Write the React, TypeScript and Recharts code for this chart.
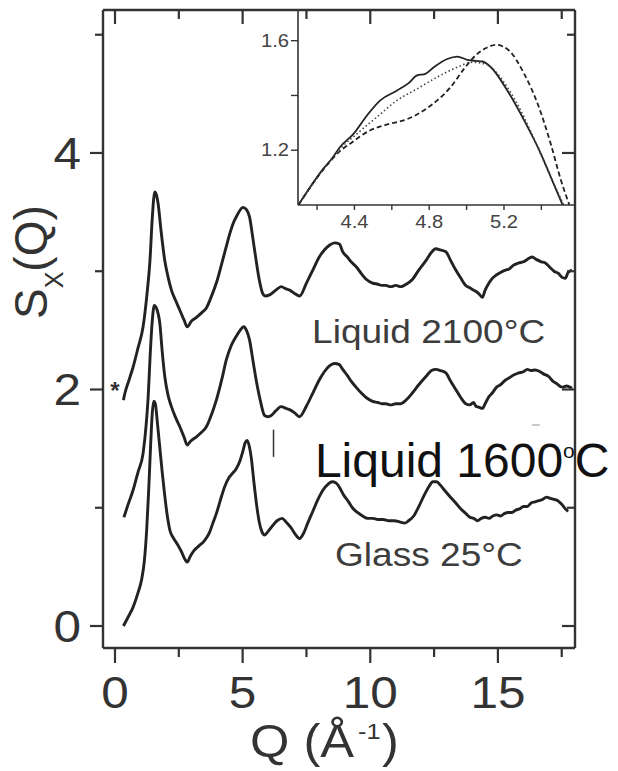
import React from 'react';
import { LineChart, Line, XAxis, YAxis, ReferenceDot, ReferenceLine } from 'recharts';

const FONT = '"Liberation Sans", Arial, Helvetica, sans-serif';
const INK = '#222222';
const AXIS = '#333333';

// ---- main panel data: Q (1/Å) and S_X(Q) (offset curves) ----
const glassQ = [0.33,0.5,0.71,0.9,1.04,1.15,1.24,1.32,1.4,1.46,1.52,1.58,1.66,1.75,1.85,1.95,2.05,2.15,2.3,2.45,2.6,2.75,2.83,2.95,3.1,3.3,3.5,3.7,3.85,3.97,4.15,4.3,4.45,4.6,4.75,4.9,5.0,5.1,5.18,5.26,5.34,5.45,5.55,5.65,5.75,5.86,6.0,6.18,6.35,6.55,6.7,6.9,7.05,7.23,7.4,7.55,7.75,7.95,8.15,8.35,8.5,8.66,8.8,8.95,9.15,9.3,9.5,9.7,9.9,10.1,10.3,10.5,10.74,10.95,11.15,11.35,11.5,11.7,11.9,12.1,12.3,12.45,12.6,12.75,12.9,13.1,13.35,13.55,13.75,13.9,14.05,14.2,14.35,14.5,14.65,14.8,14.95,15.1,15.25,15.4,15.55,15.7,15.85,16.0,16.15,16.3,16.45,16.6,16.75,16.9,17.05,17.2,17.35,17.5,17.65,17.75];
const glassS = [0.0,0.07,0.16,0.28,0.39,0.55,0.81,1.15,1.55,1.8,1.9,1.88,1.72,1.52,1.3,1.1,0.93,0.81,0.74,0.69,0.63,0.56,0.54,0.59,0.64,0.68,0.72,0.79,0.88,0.95,1.08,1.18,1.25,1.29,1.33,1.4,1.47,1.55,1.57,1.52,1.42,1.2,1.02,0.88,0.8,0.77,0.8,0.85,0.89,0.91,0.88,0.83,0.78,0.74,0.79,0.87,0.97,1.07,1.15,1.2,1.22,1.21,1.17,1.11,1.05,1.0,0.96,0.93,0.91,0.91,0.9,0.9,0.89,0.89,0.88,0.87,0.89,0.93,1.01,1.1,1.18,1.22,1.22,1.19,1.15,1.1,1.04,0.99,0.95,0.92,0.91,0.89,0.91,0.92,0.91,0.93,0.94,0.93,0.95,0.96,0.96,0.98,0.99,1.01,1.01,1.04,1.05,1.06,1.07,1.09,1.08,1.07,1.06,1.03,0.99,0.97];

const liq1600Q = [0.35,0.5,0.71,0.9,1.1,1.22,1.3,1.38,1.46,1.54,1.62,1.76,1.85,1.95,2.08,2.21,2.38,2.54,2.7,2.83,2.95,3.19,3.4,3.58,3.8,3.97,4.2,4.36,4.55,4.75,4.9,5.04,5.15,5.27,5.4,5.53,5.7,5.86,6.0,6.12,6.3,6.51,6.7,6.84,7.05,7.23,7.5,7.75,8.0,8.2,8.4,8.6,8.79,8.92,9.1,9.25,9.44,9.65,9.85,10.09,10.3,10.45,10.61,10.8,11.0,11.2,11.4,11.65,11.9,12.18,12.4,12.57,12.75,12.96,13.15,13.35,13.55,13.74,13.9,14.05,14.13,14.25,14.39,14.5,14.65,14.78,14.95,15.1,15.3,15.45,15.6,15.82,16.0,16.15,16.3,16.47,16.65,16.8,16.99,17.15,17.3,17.51,17.7,17.9];
const liq1600S = [0.92,1.02,1.15,1.3,1.46,1.7,1.94,2.3,2.58,2.71,2.69,2.55,2.32,2.11,1.95,1.855,1.76,1.685,1.6,1.53,1.56,1.6,1.64,1.685,1.8,1.91,2.1,2.25,2.37,2.45,2.5,2.53,2.5,2.42,2.25,2.08,1.9,1.78,1.77,1.78,1.82,1.855,1.84,1.83,1.8,1.77,1.86,1.97,2.08,2.15,2.2,2.22,2.21,2.17,2.12,2.07,2.02,1.97,1.93,1.9,1.89,1.88,1.88,1.87,1.88,1.88,1.91,1.97,2.04,2.11,2.16,2.17,2.16,2.14,2.07,2.0,1.93,1.88,1.87,1.89,1.86,1.85,1.84,1.88,1.94,1.97,2.02,2.04,2.08,2.1,2.12,2.14,2.15,2.17,2.16,2.165,2.15,2.13,2.11,2.07,2.05,2.02,2.03,2.01];

const liq2100Q = [0.33,0.39,0.55,0.71,0.9,1.1,1.25,1.37,1.46,1.56,1.63,1.69,1.8,1.95,2.08,2.21,2.38,2.54,2.7,2.83,3.0,3.19,3.4,3.58,3.8,3.97,4.2,4.36,4.5,4.62,4.8,5.01,5.15,5.27,5.4,5.53,5.65,5.79,5.9,6.05,6.3,6.51,6.7,6.84,7.05,7.23,7.5,7.75,8.0,8.2,8.4,8.6,8.79,8.92,9.1,9.25,9.44,9.65,9.85,10.09,10.3,10.45,10.61,10.8,11.0,11.2,11.4,11.65,11.9,12.18,12.4,12.57,12.75,12.96,13.15,13.35,13.55,13.74,13.9,14.05,14.13,14.25,14.39,14.5,14.65,14.78,14.95,15.1,15.3,15.45,15.6,15.82,16.0,16.15,16.34,16.5,16.7,16.86,17.05,17.2,17.38,17.5,17.64,17.75,17.9];
const liq2100S = [1.91,1.97,2.08,2.19,2.35,2.53,2.8,3.09,3.45,3.67,3.64,3.57,3.35,3.09,2.95,2.84,2.75,2.67,2.59,2.53,2.58,2.61,2.65,2.69,2.8,2.9,3.08,3.21,3.32,3.4,3.48,3.54,3.52,3.46,3.28,3.09,2.93,2.81,2.79,2.8,2.84,2.87,2.85,2.84,2.81,2.79,2.9,3.01,3.12,3.18,3.22,3.24,3.23,3.165,3.12,3.08,3.04,2.98,2.93,2.9,2.89,2.88,2.88,2.87,2.88,2.87,2.89,2.93,3.01,3.09,3.16,3.19,3.18,3.165,3.09,3.01,2.94,2.88,2.86,2.84,2.83,2.81,2.78,2.84,2.9,2.94,2.97,2.99,3.01,3.02,3.05,3.07,3.08,3.1,3.12,3.1,3.08,3.07,3.03,3.0,2.98,2.95,2.94,2.99,3.01];

// ---- inset data (zoom on second peak) ----
const insetSolidQ = [4.1,4.234,4.28,4.323,4.395,4.467,4.538,4.628,4.69,4.735,4.78,4.825,4.896,4.95,5.004,5.05,5.084,5.13,5.218,5.308,5.397,5.45,5.514];
const insetSolidS = [1.0,1.133,1.17,1.212,1.26,1.327,1.382,1.418,1.445,1.473,1.479,1.503,1.533,1.542,1.53,1.526,1.524,1.503,1.418,1.309,1.188,1.103,1.0];
const insetDashQ = [4.1,4.234,4.32,4.377,4.485,4.592,4.663,4.72,4.77,4.843,4.914,4.986,5.057,5.11,5.156,5.227,5.308,5.38,5.45,5.505,5.55];
const insetDashS = [1.0,1.13,1.195,1.224,1.273,1.297,1.309,1.325,1.345,1.382,1.43,1.497,1.552,1.575,1.585,1.564,1.479,1.37,1.224,1.09,1.0];
const insetDotQ = [4.1,4.234,4.323,4.413,4.52,4.628,4.735,4.843,4.95,5.03,5.1,5.218,5.308,5.38,5.45,5.52];
const insetDotS = [1.0,1.13,1.205,1.26,1.321,1.382,1.424,1.467,1.503,1.521,1.515,1.43,1.32,1.212,1.103,1.0];

// ---- ticks ----
const mainXTicks = [0, 2.5, 5, 7.5, 10, 12.5, 15, 17.5];
const mainXLabels = [0, 5, 10, 15];
const mainYTicks = [0, 1, 2, 3, 4, 5];
const mainYLabels = [0, 2, 4];
const insetXTicks = [4.2, 4.4, 4.6, 4.8, 5.0, 5.2, 5.4];
const insetXLabels = ['4.4', '4.8', '5.2'];
const insetYTicks = [1.2, 1.4, 1.6];
const insetYLabels = ['1.2', '1.6'];

const zip = (q: number[], s: number[]) => q.map((v, i) => ({ q: v, s: s[i] }));
const glass = zip(glassQ, glassS);
const liq1600 = zip(liq1600Q, liq1600S);
const liq2100 = zip(liq2100Q, liq2100S);
const insetSolid = zip(insetSolidQ, insetSolidS);
const insetDash = zip(insetDashQ, insetDashS);
const insetDot = zip(insetDotQ, insetDotS);

const BottomTick = (p: any) => {
  const { x, y, payload } = p;
  const v = payload.value;
  const major = mainXLabels.includes(v);
  return (
    <g>
      <line x1={x} x2={x} y1={y} y2={y + (major ? 15 : 9)} stroke={AXIS} strokeWidth={2.2} />
      {major && (
        <text transform={`translate(${x},${y + 60}) scale(1.1,1)`} textAnchor="middle" fontSize={45} fill="#333" fontFamily={FONT}>{v}</text>
      )}
    </g>
  );
};
const TopTick = (p: any) => {
  const { x, y, payload } = p;
  const major = mainXLabels.includes(payload.value);
  return <line x1={x} x2={x} y1={y} y2={y + (major ? 14 : 9)} stroke={AXIS} strokeWidth={2.2} />;
};
const LeftTick = (p: any) => {
  const { x, y, payload } = p;
  const v = payload.value;
  const major = mainYLabels.includes(v);
  return (
    <g>
      <line x1={x} x2={x - (major ? 13 : 8)} y1={y} y2={y} stroke={AXIS} strokeWidth={2.2} />
      {major && (
        <text transform={`translate(${x - 22},${y + 16}) scale(1.1,1)`} textAnchor="end" fontSize={45} fill="#333" fontFamily={FONT}>{v}</text>
      )}
    </g>
  );
};
const RightTick = (p: any) => {
  const { x, y, payload } = p;
  const major = mainYLabels.includes(payload.value);
  return <line x1={x} x2={x - (major ? 13 : 8)} y1={y} y2={y} stroke={AXIS} strokeWidth={2.2} />;
};
const InsetBottomTick = (p: any) => {
  const { x, y, payload } = p;
  const label = payload.value.toFixed(1);
  const show = insetXLabels.includes(label);
  return (
    <g>
      <line x1={x} x2={x} y1={y} y2={y + 5} stroke={AXIS} strokeWidth={1.4} />
      {show && (
        <text transform={`translate(${x},${y + 23}) scale(1.12,1)`} textAnchor="middle" fontSize={18} fill="#444" fontFamily={FONT}>{label}</text>
      )}
    </g>
  );
};
const InsetLeftTick = (p: any) => {
  const { x, y, payload } = p;
  const label = payload.value.toFixed(1);
  const show = insetYLabels.includes(label);
  return (
    <g>
      <line x1={x} x2={x - 7} y1={y} y2={y} stroke={AXIS} strokeWidth={1.4} />
      {show && (
        <text transform={`translate(${x - 9},${y + 6}) scale(1.12,1)`} textAnchor="end" fontSize={18} fill="#444" fontFamily={FONT}>{label}</text>
      )}
    </g>
  );
};

const XTitle = () => (
  <g fill="#333" fontFamily={FONT}>
    <text transform="translate(250,757) scale(1.1,1)" fontSize={46}>Q (Å</text>
    <text transform="translate(358,739) scale(1.15,1)" fontSize={22}>-1</text>
    <text transform="translate(382,757) scale(1.1,1)" fontSize={46}>)</text>
  </g>
);
const YTitle = () => (
  <text transform="translate(47,319) rotate(-90)" fontSize={46} fill="#333" fontFamily={FONT}>
    S<tspan fontSize={25} dy={16}>X</tspan><tspan fontSize={46} dy={-16}>(Q)</tspan>
  </text>
);

const greyLabel = (content: React.ReactNode) => (p: any) => (
  <text transform={`translate(${p.cx},${p.cy}) scale(1.09,1)`} fontSize={34} fill="#3d3d3d" fontFamily={FONT}>{content}</text>
);

export default function App() {
  return (
    <div style={{ position: 'absolute', left: 0, top: 0, width: 618, height: 771, background: '#fff' }}>
      <div style={{ position: 'absolute', left: 0, top: 0 }}>
        <LineChart width={618} height={771} margin={{ top: 9, right: 42, bottom: 63, left: 43 }}>
          <XAxis xAxisId="b" type="number" dataKey="q" domain={[-0.47, 18.02]} ticks={mainXTicks} interval={0}
            allowDataOverflow height={60} tickSize={0} tickMargin={0} tickLine={false}
            axisLine={{ stroke: AXIS, strokeWidth: 2.4 }} tick={<BottomTick />}
            label={{ content: () => <XTitle /> }} />
          <XAxis xAxisId="t" orientation="top" type="number" dataKey="q" domain={[-0.47, 18.02]} ticks={mainXTicks} interval={0}
            allowDataOverflow height={1} tickSize={0} tickMargin={0} tickLine={false}
            axisLine={{ stroke: AXIS, strokeWidth: 2.4 }} tick={<TopTick />} />
          <YAxis yAxisId="l" type="number" domain={[-0.186, 5.209]} ticks={mainYTicks} interval={0}
            allowDataOverflow width={60} tickSize={0} tickMargin={0} tickLine={false}
            axisLine={{ stroke: AXIS, strokeWidth: 2.4 }} tick={<LeftTick />}
            label={{ content: () => <YTitle /> }} />
          <YAxis yAxisId="r" orientation="right" type="number" domain={[-0.186, 5.209]} ticks={mainYTicks} interval={0}
            allowDataOverflow width={1} tickSize={0} tickMargin={0} tickLine={false}
            axisLine={{ stroke: AXIS, strokeWidth: 2.4 }} tick={<RightTick />} />

          <Line xAxisId="b" yAxisId="l" data={liq2100} dataKey="s" type="monotone" stroke={INK} strokeWidth={2.9} dot={false} isAnimationActive={false} />
          <Line xAxisId="b" yAxisId="l" data={liq1600} dataKey="s" type="monotone" stroke={INK} strokeWidth={2.9} dot={false} isAnimationActive={false} />
          <Line xAxisId="b" yAxisId="l" data={glass} dataKey="s" type="monotone" stroke={INK} strokeWidth={2.9} dot={false} isAnimationActive={false} />

          <ReferenceLine xAxisId="b" yAxisId="l" segment={[{ x: 6.21, y: 1.43 }, { x: 6.21, y: 1.66 }]} stroke="#333" strokeWidth={1.5} />
          <ReferenceLine xAxisId="b" yAxisId="l" segment={[{ x: 16.33, y: 1.70 }, { x: 16.64, y: 1.70 }]} stroke="#c8c8c8" strokeWidth={2} />

          <ReferenceDot xAxisId="b" yAxisId="l" x={0} y={2.0} r={0}
            shape={(p: any) => <text x={p.cx} y={p.cy + 10} textAnchor="middle" fontSize={24} fontWeight="bold" fill="#333" fontFamily={FONT}>*</text>} />
          <ReferenceDot xAxisId="b" yAxisId="l" x={7.72} y={2.39} r={0} shape={greyLabel(<>Liquid 2100°C</>)} />
          <ReferenceDot xAxisId="b" yAxisId="l" x={8.62} y={0.507} r={0} shape={greyLabel(<>Glass 25°C</>)} />
          <ReferenceDot xAxisId="b" yAxisId="l" x={7.83} y={1.26} r={0}
            shape={(p: any) => (
              <text x={p.cx} y={p.cy} fontSize={48} fill="#111" fontFamily={FONT}>
                Liquid 1600<tspan fontSize={21} dx={0} dy={-19}>o</tspan><tspan fontSize={48} dx={0} dy={19}>C</tspan>
              </text>
            )} />
        </LineChart>
      </div>

      <div style={{ position: 'absolute', left: 238, top: 0 }}>
        <LineChart width={380} height={240} margin={{ top: 10, right: 43, bottom: 5, left: 0 }}>
          <XAxis type="number" dataKey="q" domain={[4.098, 5.58]} ticks={insetXTicks} interval={0}
            allowDataOverflow height={30} tickSize={0} tickMargin={0} tickLine={false}
            axisLine={{ stroke: AXIS, strokeWidth: 1.6 }} tick={<InsetBottomTick />} />
          <YAxis type="number" domain={[1.0, 1.712]} ticks={insetYTicks} interval={0}
            allowDataOverflow width={60} tickSize={0} tickMargin={0} tickLine={false}
            axisLine={{ stroke: AXIS, strokeWidth: 1.6 }} tick={<InsetLeftTick />} />
          <Line data={insetSolid} dataKey="s" type="monotone" stroke={INK} strokeWidth={1.8} dot={false} isAnimationActive={false} />
          <Line data={insetDash} dataKey="s" type="monotone" stroke={INK} strokeWidth={1.8} strokeDasharray="5 3" dot={false} isAnimationActive={false} />
          <Line data={insetDot} dataKey="s" type="monotone" stroke="#444" strokeWidth={1.6} strokeDasharray="1.5 2.5" dot={false} isAnimationActive={false} />
        </LineChart>
      </div>
    </div>
  );
}
